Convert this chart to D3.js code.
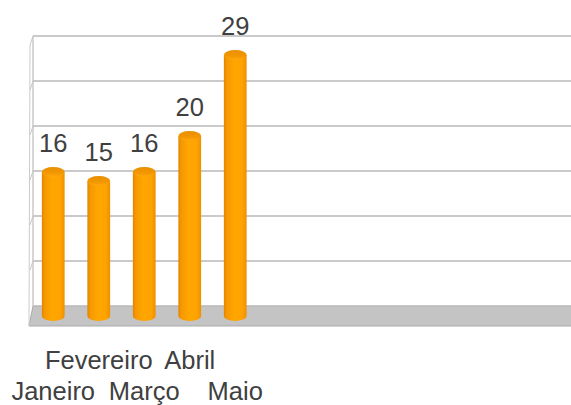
<!DOCTYPE html>
<html><head><meta charset="utf-8">
<script src="https://cdn.jsdelivr.net/npm/d3@7/dist/d3.min.js"></script>
<style>html,body{margin:0;padding:0;background:#fff;overflow:hidden}</style>
</head><body>
<svg id="c" width="571" height="405"></svg>
<script>
const categories = ["Janeiro","Fevereiro","Março","Abril","Maio"];
const values = [16,15,16,20,29];
const yTicks = [0,5,10,15,20,25,30];

const svg = d3.select("#c");
const W = 571;
const depth = 20, half = 10;
const x = d3.scaleBand().domain(categories).range([30.5, 258]).paddingInner(0.5).paddingOuter(0.25);
const y = d3.scaleLinear().domain([0,30]).range([306,36]);
const backX = 33, frontX = 29;

const defs = svg.append("defs");
const g1 = defs.append("linearGradient").attr("id","body").attr("x1","0").attr("x2","1").attr("y1","0").attr("y2","0");
[[0,"#e08400"],[0.12,"#f59800"],[0.45,"#ffa600"],[0.8,"#ffa300"],[1,"#ee9000"]].forEach(s=>g1.append("stop").attr("offset",s[0]).attr("stop-color",s[1]));
const g2 = defs.append("linearGradient").attr("id","top").attr("x1","0").attr("x2","0").attr("y1","0").attr("y2","1");
[[0,"#ea8f00"],[0.6,"#f29700"],[1,"#ffaa10"]].forEach(s=>g2.append("stop").attr("offset",s[0]).attr("stop-color",s[1]));

// floor
svg.append("path")
  .attr("d",`M${backX},${y(0)}L${W},${y(0)}L${W},${y(0)+depth}L${frontX},${y(0)+depth}Z`)
  .attr("fill","#c4c4c4").attr("stroke","none");
svg.append("line").attr("x1",frontX).attr("x2",W).attr("y1",y(0)+depth).attr("y2",y(0)+depth).attr("stroke","#a9a9a9").attr("stroke-width",1.2);
svg.append("line").attr("x1",backX).attr("x2",frontX).attr("y1",y(0)).attr("y2",y(0)+depth).attr("stroke","#a9a9a9").attr("stroke-width",1);

// gridlines
svg.selectAll(".grid").data(yTicks).enter().append("line")
  .attr("x1",backX).attr("x2",W).attr("y1",d=>y(d)).attr("y2",d=>y(d))
  .attr("stroke","#b9b9b9").attr("stroke-width",1.5);

// left wall
svg.append("line").attr("x1",backX).attr("x2",backX).attr("y1",y(30)).attr("y2",y(0)).attr("stroke","#bdbdbd").attr("stroke-width",1.2);
svg.selectAll(".wall").data(yTicks.slice(1)).enter().append("line")
  .attr("x1",backX).attr("x2",frontX+1).attr("y1",d=>y(d)).attr("y2",d=>y(d)+9)
  .attr("stroke","#c8c8c8").attr("stroke-width",1);
svg.append("line").attr("x1",frontX+1).attr("x2",frontX).attr("y1",y(30)+9).attr("y2",y(0)+depth).attr("stroke","#cbcbcb").attr("stroke-width",1);

// bars (cylinders)
const rx = x.bandwidth()/2, ry = 5;
const bars = svg.selectAll(".bar").data(categories.map((c,i)=>({c,v:values[i]}))).enter().append("g");
bars.append("path")
  .attr("d",d=>{
    const cx = x(d.c)+rx, top = y(d.v)+half, bot = y(0)+half;
    return `M${cx-rx},${top}L${cx-rx},${bot}A${rx},${ry} 0 0 0 ${cx+rx},${bot}L${cx+rx},${top}Z`;
  })
  .attr("fill","url(#body)");
bars.append("ellipse")
  .attr("cx",d=>x(d.c)+rx).attr("cy",d=>y(d.v)+half).attr("rx",rx).attr("ry",ry)
  .attr("fill","url(#top)");

// value labels
svg.selectAll(".val").data(categories).enter().append("text")
  .attr("x",d=>x(d)+rx).attr("y",(d,i)=>y(values[i])+half-20)
  .attr("text-anchor","middle").attr("font-family","'Liberation Sans',Arial,sans-serif")
  .attr("font-size",25.5).attr("fill","#404040").text((d,i)=>values[i]);

// category labels (staggered)
svg.selectAll(".cat").data(categories).enter().append("text")
  .attr("x",d=>x(d)+rx).attr("y",(d,i)=>i%2===0?400:369)
  .attr("text-anchor","middle").attr("font-family","'Liberation Sans',Arial,sans-serif")
  .attr("font-size",25.5).attr("fill","#404040").text(d=>d);
</script>
</body></html>
